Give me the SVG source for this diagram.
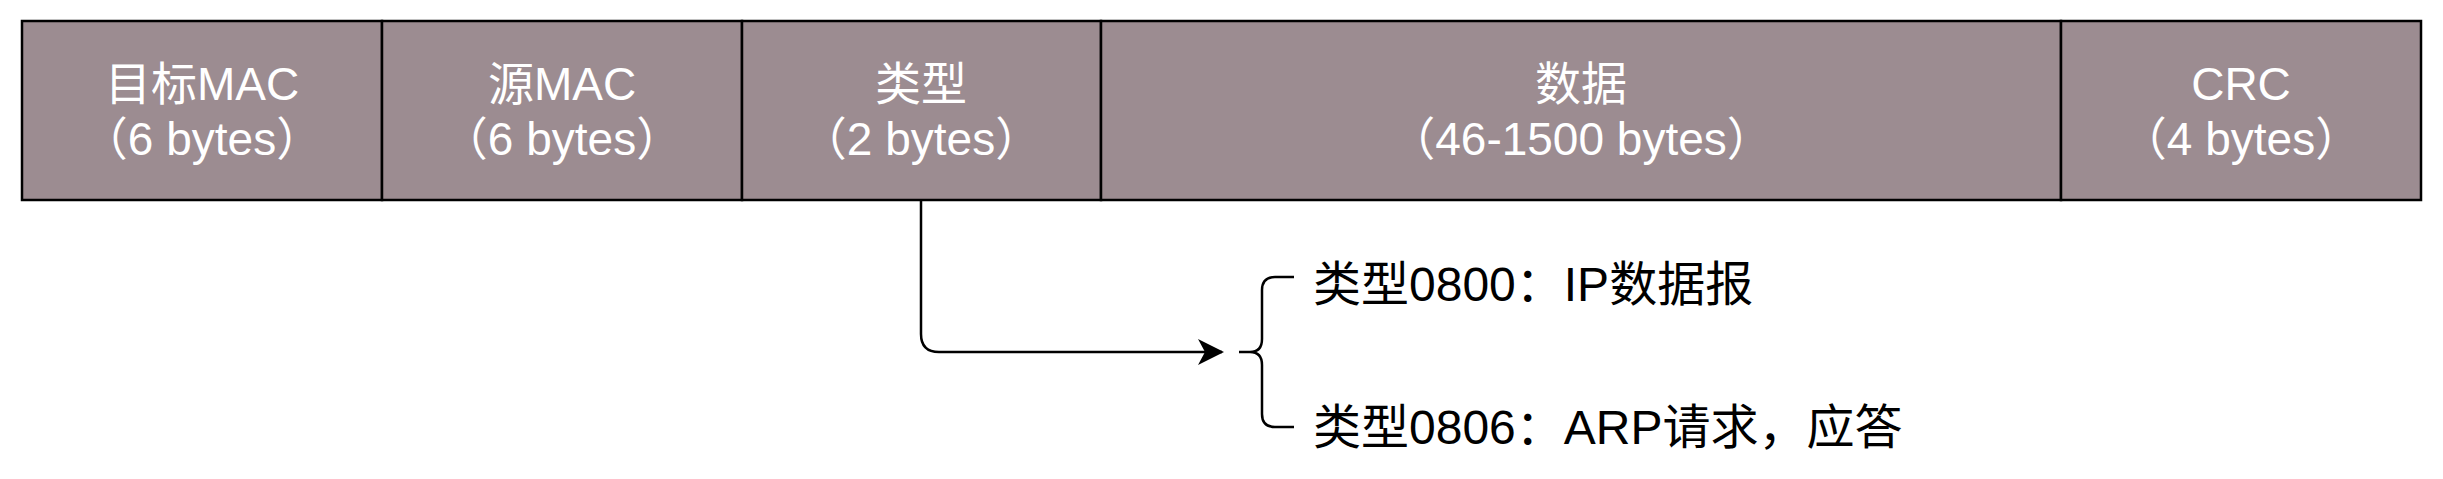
<svg xmlns="http://www.w3.org/2000/svg" width="2443" height="479" viewBox="0 0 2443 479">
<defs>
<style>
.f{fill:#9c8c91;stroke:#000;stroke-width:2.5}
.t{font-family:"Liberation Sans","Noto Sans CJK SC",sans-serif;font-size:46px;fill:#fff;text-anchor:middle}
.b{font-family:"Liberation Sans","Noto Sans CJK SC",sans-serif;font-size:48px;fill:#000}
.c{fill:none;stroke:#000;stroke-width:2.5}
</style>
<marker id="arr" viewBox="0 0 26 26" refX="24" refY="13" markerWidth="26" markerHeight="26" markerUnits="userSpaceOnUse" orient="auto">
<path d="M0,0 L26,13 L0,26 L7,13 Z" fill="#000"/>
</marker>
</defs>
<rect width="2443" height="479" fill="#fff"/>
<g id="dst-mac"><rect class="f" x="22" y="21" width="360" height="179"/><text class="t" x="202" y="100">目标MAC</text><text class="t" x="202" y="155">（6 bytes）</text></g>
<g id="src-mac"><rect class="f" x="382" y="21" width="360" height="179"/><text class="t" x="562" y="100">源MAC</text><text class="t" x="562" y="155">（6 bytes）</text></g>
<g id="type"><rect class="f" x="742" y="21" width="359" height="179"/><text class="t" x="921" y="100">类型</text><text class="t" x="921" y="155">（2 bytes）</text></g>
<g id="data"><rect class="f" x="1101" y="21" width="960" height="179"/><text class="t" x="1581" y="100">数据</text><text class="t" x="1581" y="155">（46-1500 bytes）</text></g>
<g id="crc"><rect class="f" x="2061" y="21" width="360" height="179"/><text class="t" x="2241" y="100">CRC</text><text class="t" x="2241" y="155">（4 bytes）</text></g>
<g id="connectors">
<path class="c" d="M921,200 V334 Q921,352 939,352 H1222" marker-end="url(#arr)"/>
<path class="c" d="M1294,277 H1275 Q1262,277 1262,290 V339 Q1262,352 1250,352 H1239 M1250,352 Q1262,352 1262,365 V414 Q1262,427 1275,427 H1294"/>
</g>
<g id="type-values">
<text class="b" x="1313" y="301">类型0800：IP数据报</text>
<text class="b" x="1313" y="444">类型0806：ARP请求，应答</text>
</g>
</svg>
